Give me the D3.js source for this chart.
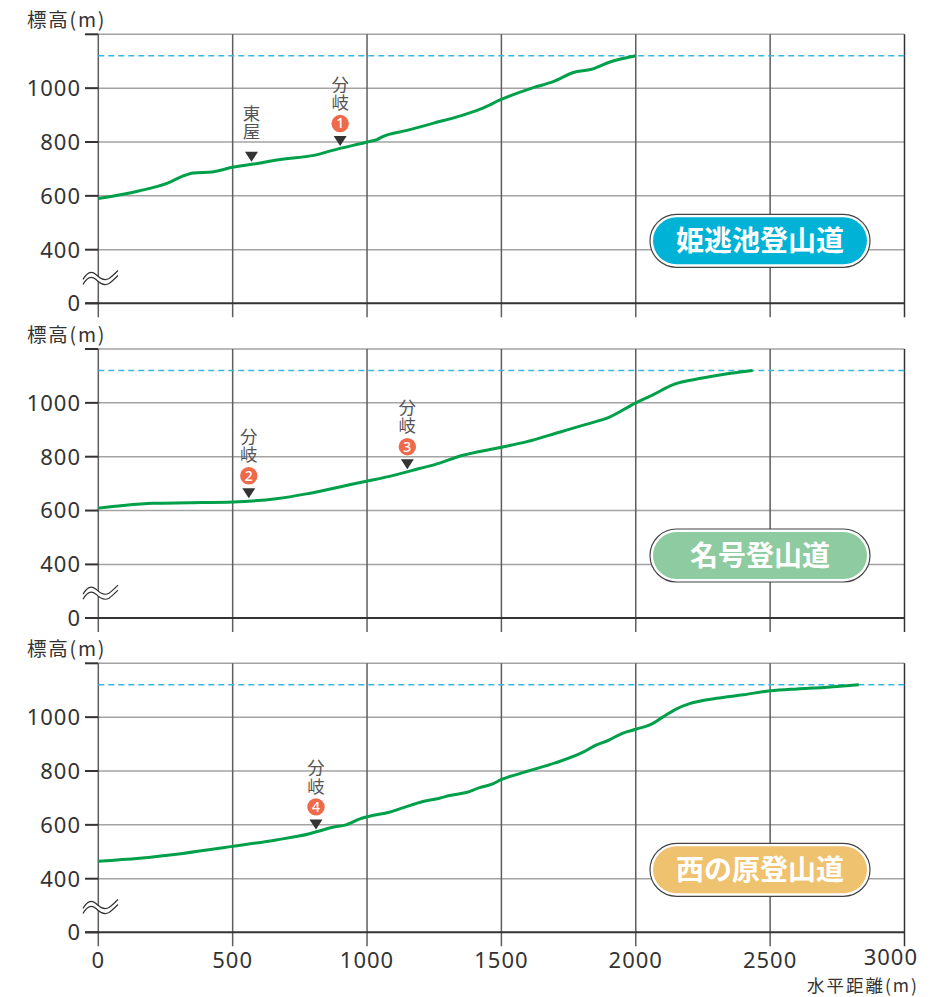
<!DOCTYPE html>
<html><head><meta charset="utf-8">
<script src="https://cdn.jsdelivr.net/npm/d3@7"></script>
<style>body{margin:0;background:#fff}svg{display:block}</style>
</head><body>
<svg id="chart" width="938" height="997"></svg>
<script>
// ---------- data ----------
const trailNames = ["姫逃池登山道", "名号登山道", "西の原登山道"];
const xTicks = [0, 500, 1000, 1500, 2000, 2500, 3000];
const yTicks = [0, 400, 600, 800, 1000];
const yGrid = [400, 600, 800, 1000, 1200];
const summitElev = 1120;
const yLabel = "標高(m)";
const xLabel = "水平距離(m)";

const himeSeries = [[0,590],[150,618],[260,648],[316,674],[354,685],[424,689],[503,707],[577,718],[666,733],[826,756],[864,767],[1001,800],[1037,809],[1056,819],[1149,843],[1248,870],[1347,897],[1421,922],[1502,959],[1619,1002],[1693,1024],[1768,1058],[1836,1070],[1904,1097],[2000,1120]];
const myogoSeries = [[0,609],[92,619],[204,627],[340,629],[501,632],[662,644],[774,662],[885,685],[997,709],[1084,727],[1195,756],[1270,776],[1332,798],[1501,835],[1592,855],[1716,891],[1815,920],[1902,947],[2000,1000],[2062,1029],[2137,1067],[2248,1092],[2335,1107],[2435,1120]];
const nishiSeries = [[0,465],[153,476],[314,494],[500,520],[662,544],[786,567],[835,581],[872,591],[922,600],[971,621],[1009,632],[1083,647],[1133,663],[1208,687],[1270,699],[1307,709],[1369,720],[1419,738],[1468,752],[1499,768],[1530,779],[1600,800],[1700,830],[1800,868],[1850,895],[1900,915],[1950,940],[2000,955],[2060,975],[2100,1000],[2150,1030],[2200,1050],[2300,1070],[2400,1083],[2500,1098],[2600,1105],[2700,1110],[2760,1115],[2830,1120]];

const himeMarkers = [{label:"東屋", num:null, dist:570}, {label:"分岐", num:"1", dist:900}];
const myogoMarkers = [{label:"分岐", num:"2", dist:560}, {label:"分岐", num:"3", dist:1150}];
const nishiMarkers = [{label:"分岐", num:"4", dist:810}];

const seriesList = [himeSeries, myogoSeries, nishiSeries];
const markerList = [himeMarkers, myogoMarkers, nishiMarkers];

// ---------- styles ----------
const pillColors = ["#00b2d6", "#8fcba0", "#efc26f"];
const FONT = "'Noto Sans CJK JP','Noto Sans',sans-serif";
const NUMFONT = "'Noto Sans','Noto Sans CJK JP',sans-serif";
const lineColor = "#00a04b";

const svg = d3.select("#chart");
const x = d3.scaleLinear().domain([0, 3000]).range([98.3, 904.5]);

const panelBase = [303.3, 618.0, 932.3];

function interp(series, d) {
  const i = d3.bisector(p => p[0]).right(series, d);
  if (i <= 0) return series[0][1];
  if (i >= series.length) return series[series.length-1][1];
  const a = series[i-1], b = series[i];
  return a[1] + (b[1]-a[1]) * (d - a[0]) / (b[0]-a[0]);
}

panelBase.forEach((base, pi) => {
  const y = d3.scaleLinear().domain([0, 400, 1200]).range([base, base - 53.6, base - 269]);
  const g = svg.append("g");
  const top = y(1200);

  // horizontal grid
  g.selectAll(".hg").data(yGrid).join("line")
    .attr("x1", x(0)).attr("x2", x(3000))
    .attr("y1", d => y(d)).attr("y2", d => y(d))
    .attr("stroke", "#a3a3a3").attr("stroke-width", 1.5);

  // vertical grid
  g.selectAll(".vg").data(xTicks).join("line")
    .attr("x1", d => x(d)).attr("x2", d => x(d))
    .attr("y1", top).attr("y2", base + 14)
    .attr("stroke", d => d === 3000 ? "#333" : "#5e5e5e").attr("stroke-width", 1.5);

  // zero line
  g.append("line").attr("x1", 85).attr("x2", x(3000))
    .attr("y1", y(0)).attr("y2", y(0)).attr("stroke", "#333").attr("stroke-width", 2);

  // y ticks
  g.selectAll(".yt").data(yGrid.concat([0])).join("line")
    .attr("x1", 85).attr("x2", x(0))
    .attr("y1", d => y(d)).attr("y2", d => y(d))
    .attr("stroke", "#333").attr("stroke-width", 2);

  g.selectAll(".yl").data(yTicks).join("text")
    .attr("x", 81).attr("y", d => y(d)).attr("dy", "0.36em")
    .attr("text-anchor", "end").attr("font-family", NUMFONT).attr("font-size", 22)
    .attr("letter-spacing", 1).attr("fill", "#333").text(d => d);

  // y label
  g.append("text").attr("x", 27).attr("y", base - 276)
    .attr("font-family", FONT).attr("font-size", 19.5).attr("fill", "#333")
    .attr("letter-spacing", 1.8)
    .text(yLabel);

  // break symbol
  const m = (y(0) + y(400)) / 2;
  const wave = (o) => `M83,${m+3+o} C87,${m-4+o} 91,${m-6+o} 96,${m-2+o} C100,${m+2+o} 104,${m+5+o} 109,${m+2+o} C112,${m+o} 115,${m-3+o} 118,${m-6+o}`;
  const fillPath = `M83,${m+3} C87,${m-4} 91,${m-6} 96,${m-2} C100,${m+2} 104,${m+5} 109,${m+2} C112,${m} 115,${m-3} 118,${m-6} L118,${m-1} C115,${m+2} 112,${m+5} 109,${m+7} C104,${m+10} 100,${m+7} 96,${m+3} C91,${m-1} 87,${m+1} 83,${m+8} Z`;
  g.append("path").attr("d", fillPath).attr("fill", "#fff");
  g.append("path").attr("d", wave(0)).attr("fill", "none").attr("stroke", "#333").attr("stroke-width", 1.2);
  g.append("path").attr("d", wave(5)).attr("fill", "none").attr("stroke", "#333").attr("stroke-width", 1.2);

  // summit dashed line
  g.append("line").attr("x1", x(0)).attr("x2", x(3000))
    .attr("y1", y(summitElev)).attr("y2", y(summitElev))
    .attr("stroke", "#3bb5e3").attr("stroke-width", 1.5).attr("stroke-dasharray", "6,4");

  // profile line
  const line = d3.line().x(d => x(d[0])).y(d => y(d[1])).curve(d3.curveMonotoneX);
  g.append("path").datum(seriesList[pi]).attr("d", line)
    .attr("fill", "none").attr("stroke", lineColor).attr("stroke-width", 3).attr("stroke-linejoin", "round");

  // markers
  markerList[pi].forEach(mk => {
    const mx = x(mk.dist);
    const ty = y(interp(seriesList[pi], mk.dist)) - 2.5;
    g.append("path").attr("d", `M${mx-6.5},${ty-10} L${mx+6.5},${ty-10} L${mx},${ty} Z`).attr("fill", "#333");
    let c2;
    if (mk.num) {
      const cy = ty - 22.5;
      g.append("circle").attr("cx", mx).attr("cy", cy).attr("r", 8.7).attr("fill", "#ee6a4a");
      g.append("text").attr("x", mx).attr("y", cy).attr("dy", "0.35em").attr("text-anchor", "middle")
        .attr("font-family", NUMFONT).attr("font-size", 14).attr("font-weight", 500).attr("fill", "#fff").text(mk.num);
      c2 = cy - 21;
    } else {
      c2 = ty - 30;
    }
    // vertical label (two stacked characters)
    const c1 = c2 - 18.5;
    g.append("text").attr("x", mx).attr("y", c1 - 8.75)
      .attr("writing-mode", "vertical-rl").attr("text-anchor", "start")
      .attr("letter-spacing", 1)
      .attr("font-family", FONT).attr("font-size", 17.5).attr("fill", "#555")
      .text(mk.label);
  });

  // pill legend
  const pcy = base - 62.5;
  g.append("rect").attr("x", 650).attr("y", pcy - 26.5).attr("width", 220).attr("height", 53)
    .attr("rx", 26.5).attr("fill", "#fff").attr("stroke", "#444").attr("stroke-width", 1.2);
  g.append("rect").attr("x", 653).attr("y", pcy - 23.5).attr("width", 214).attr("height", 47)
    .attr("rx", 23.5).attr("fill", pillColors[pi]);
  g.append("text").attr("x", 760).attr("y", pcy).attr("dy", "0.36em").attr("text-anchor", "middle")
    .attr("font-family", FONT).attr("font-size", 28).attr("font-weight", 700).attr("fill", "#fff")
    .text(trailNames[pi]);

  // x labels on bottom panel
  if (pi === 2) {
    g.selectAll(".xl").data(xTicks).join("text")
      .attr("x", d => d === 3000 ? 918 : x(d)).attr("y", d => d === 3000 ? 964.5 : 968)
      .attr("text-anchor", d => d === 3000 ? "end" : "middle")
      .attr("font-family", NUMFONT).attr("font-size", 22).attr("letter-spacing", 1)
      .attr("fill", "#333").text(d => d);
    g.append("text").attr("x", 919).attr("y", 991.5).attr("text-anchor", "end")
      .attr("font-family", FONT).attr("font-size", 17.5).attr("fill", "#333")
      .attr("letter-spacing", 2).text(xLabel);
  }
});
</script>
</body></html>
